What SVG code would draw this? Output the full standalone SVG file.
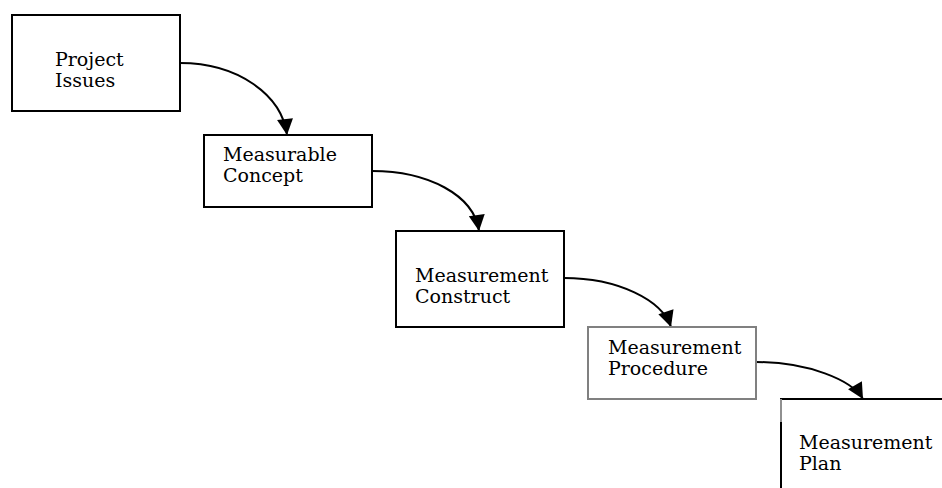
<svg xmlns="http://www.w3.org/2000/svg" width="942" height="488" viewBox="0 0 942 488">
<style>
.box{fill:#fff;stroke:#000;stroke-width:2}
.gray{stroke:#808080}
.lbl{font-family:"DejaVu Serif","Liberation Serif",serif;font-size:19px;fill:#000}
.conn{fill:none;stroke:#000;stroke-width:2}
</style>
<defs>
<marker id="ah" viewBox="0 0 10 10" refX="10" refY="5" markerUnits="userSpaceOnUse" markerWidth="18" markerHeight="16" orient="auto">
<path d="M0,0 L10,5 L0,10 z" fill="#000"/>
</marker>
</defs>
<rect width="942" height="488" fill="#fff"/>
<g id="connectors">
<path class="conn" d="M180,63 C238,63 282,95 287,135" marker-end="url(#ah)"/>
<path class="conn" d="M372,171 C428,171 474,195 479,231" marker-end="url(#ah)"/>
<path class="conn" d="M564,278 C618,278 662,300 671,327" marker-end="url(#ah)"/>
<path class="conn" d="M756,362 C808,362 852,380 863,399" marker-end="url(#ah)"/>
</g>
<g id="project-issues">
<rect class="box" x="12" y="15" width="168" height="96"/>
<text class="lbl" x="55" y="66">Project</text>
<text class="lbl" x="55" y="87">Issues</text>
</g>
<g id="measurable-concept">
<rect class="box" x="204" y="135" width="168" height="72"/>
<text class="lbl" x="223" y="161">Measurable</text>
<text class="lbl" x="223" y="182">Concept</text>
</g>
<g id="measurement-construct">
<rect class="box" x="396" y="231" width="168" height="96"/>
<text class="lbl" x="415" y="282">Measurement</text>
<text class="lbl" x="415" y="303">Construct</text>
</g>
<g id="measurement-procedure">
<rect class="box gray" x="588" y="327" width="168" height="72"/>
<text class="lbl" x="608" y="354">Measurement</text>
<text class="lbl" x="608" y="375">Procedure</text>
</g>
<g id="measurement-plan">
<path d="M781,490 L781,399 L944,399" fill="#fff" stroke="#000" stroke-width="2"/>
<line x1="781" y1="399" x2="781" y2="422" stroke="#909090" stroke-width="2"/>
<text class="lbl" x="799" y="449">Measurement</text>
<text class="lbl" x="799" y="470">Plan</text>
</g>
</svg>
